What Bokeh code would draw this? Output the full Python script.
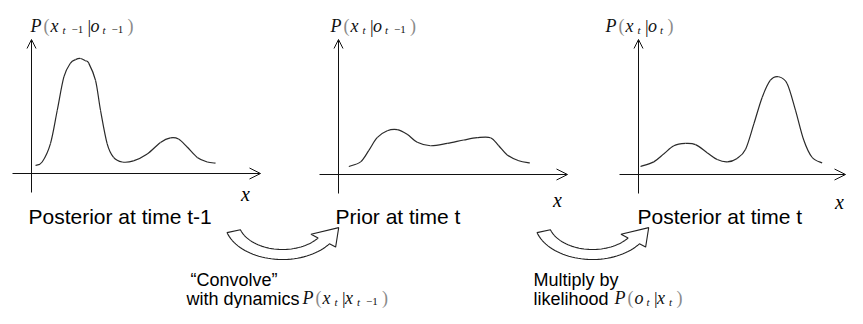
import numpy as np
from bokeh.plotting import figure
from bokeh.models import Range1d, Arrow, OpenHead
from bokeh.core.properties import value
from bokeh.embed import file_html
from bokeh.resources import INLINE

# ---------------- data (x in domain units, p = relative density) ----------------
post_prev_x = [0.22, 0.58, 1.03, 1.40, 1.76, 2.12, 2.39, 2.66, 2.93, 3.11, 3.48, 3.75,
               4.11, 4.46, 4.93, 5.54, 6.29, 7.01, 7.55, 7.99, 8.46, 9.01, 9.55, 10.0]
post_prev_p = [0.07, 0.10, 0.26, 0.55, 0.84, 0.96, 0.99, 1.00, 0.98, 0.96, 0.81, 0.55,
               0.26, 0.14, 0.10, 0.11, 0.17, 0.27, 0.31, 0.30, 0.23, 0.14, 0.10, 0.09]

prior_x = [0.56, 1.20, 1.65, 2.10, 2.65, 3.19, 3.73, 4.28, 5.00, 5.91, 6.81, 7.54,
           8.26, 8.71, 9.17, 9.80, 10.40]
prior_p = [0.07, 0.11, 0.21, 0.32, 0.38, 0.39, 0.35, 0.28, 0.25, 0.27, 0.30, 0.32,
           0.32, 0.25, 0.17, 0.12, 0.10]

post_x = [0.11, 0.83, 1.38, 1.92, 2.55, 3.10, 3.73, 4.28, 4.82, 5.36, 5.82, 6.27,
          6.72, 7.17, 7.62, 8.08, 8.53, 8.98, 9.43, 9.98]
post_p = [0.07, 0.11, 0.18, 0.25, 0.27, 0.26, 0.19, 0.13, 0.11, 0.14, 0.22, 0.44,
          0.67, 0.82, 0.85, 0.79, 0.56, 0.30, 0.15, 0.10]

panel_captions = ["Posterior at time t-1", "Prior at time t", "Posterior at time t"]
axis_label = "x"
step1_lines = ["\u201cConvolve\u201d", "with dynamics"]
step2_lines = ["Multiply by", "likelihood"]

# math labels: tuples are subscripts
title_tokens = [
    ["P", "(", "x", ("t\u22121",), "|", "o", ("t\u22121",), ")"],
    ["P", "(", "x", ("t",), "|", "o", ("t\u22121",), ")"],
    ["P", "(", "x", ("t",), "|", "o", ("t",), ")"],
]
dyn_tokens = ["P", "(", "x", ("t",), "|", "x", ("t\u22121",), ")"]
lik_tokens = ["P", "(", "o", ("t",), "|", "x", ("t",), ")"]

# ---------------- layout ----------------
W, H = 847, 308
X0, X1 = 0, W
Y0, Y1 = 0, H
SX, SY = 18.4, 115.0
origins = [(31, 173), (338, 174), (638, 174)]

p = figure(width=W, height=H, x_range=Range1d(X0, X1), y_range=Range1d(Y1, Y0),
           output_backend="svg", toolbar_location=None, min_border=0,
           x_axis_location=None, y_axis_location=None,
           outline_line_color=None, background_fill_color="white",
           border_fill_color="white")
p.grid.visible = False

SANS = value("Liberation Sans")
SERIF = value("Liberation Serif")


def smooth_curve(xs, ys, rname):
    """Catmull-Rom rendering of the read points as cubic Bezier segments."""
    x = np.asarray(xs, float)
    y = np.asarray(ys, float)
    n = len(x)
    xp = np.concatenate([[x[0]], x, [x[-1]]])
    yp = np.concatenate([[y[0]], y, [y[-1]]])
    i = np.arange(n - 1) + 1
    cx0 = xp[i] + (xp[i + 1] - xp[i - 1]) / 6
    cy0 = yp[i] + (yp[i + 1] - yp[i - 1]) / 6
    cx1 = xp[i + 1] - (xp[i + 2] - xp[i]) / 6
    cy1 = yp[i + 1] - (yp[i + 2] - yp[i]) / 6
    p.bezier(x0=x[:-1], y0=y[:-1], x1=x[1:], y1=y[1:], cx0=cx0, cy0=cy0,
             cx1=cx1, cy1=cy1, x_range_name=rname, y_range_name=rname,
             line_color="#2a2a2a", line_width=1.2)


curves = [(post_prev_x, post_prev_p), (prior_x, prior_p), (post_x, post_p)]
for k, ((ox, oy), (cx, cp)) in enumerate(zip(origins, curves)):
    name = f"panel{k}"
    p.extra_x_ranges[name] = Range1d((X0 - ox) / SX, (X1 - ox) / SX)
    p.extra_y_ranges[name] = Range1d((oy - Y1) / SY, (oy - Y0) / SY)
    smooth_curve(cx, cp, name)
    x_end = min(ox + 229, X1 - 2)
    p.add_layout(Arrow(end=OpenHead(size=11, line_width=1, line_color="#111"),
                       x_start=ox - 19, y_start=oy, x_end=x_end, y_end=oy,
                       line_width=1, line_color="#111"))
    p.add_layout(Arrow(end=OpenHead(size=9, line_width=1, line_color="#111"),
                       x_start=ox, y_start=oy + 19, x_end=ox, y_end=39,
                       line_width=1, line_color="#111"))

# panel captions
p.text(x=[28, 335, 637], y=[216, 216, 216], text=panel_captions, text_font=SANS,
       text_font_size="21px", text_color="black", text_baseline="alphabetic",
       text_align="left")

# axis "x" labels
p.text(x=[245, 557, 839], y=[193, 199, 201], text=[axis_label] * 3, text_font=SERIF,
       text_font_style="italic", text_font_size="20px", text_color="black",
       text_baseline="middle", text_align="center")

# ---------------- math labels ----------------
ADV = {"P": 13, "(": 7, "x": 11, "o": 11, "|": 3, ")": 6}
SUB_ADV = {"t": 8.5, "t\u22121": 26}
groups = {}


def add(key, x, y, t):
    groups.setdefault(key, ([], [], []))
    groups[key][0].append(x)
    groups[key][1].append(y)
    groups[key][2].append(t)


def math_label(x0, y0, tokens, s=1.0):
    x = x0
    for tok in tokens:
        if isinstance(tok, tuple):
            t = tok[0]
            add(("sub", s), x + 1 * s, y0 + 4 * s, "t")
            if t != "t":
                add(("subn", s), x + 10 * s, y0 + 4 * s, "\u22121")
            x += SUB_ADV[t] * s
        elif tok in "()":
            add(("paren", s), x, y0, tok)
            x += ADV[tok] * s
        elif tok == "|":
            add(("bar", s), x, y0 + 1 * s, tok)
            x += ADV[tok] * s
        else:
            add(("it", s), x, y0, tok)
            x += ADV[tok] * s


for (tx, tks) in zip([30, 330, 605], title_tokens):
    math_label(tx, 25, tks)
math_label(302, 297, dyn_tokens)
math_label(614, 297, lik_tokens)

style = {
    "it": dict(font=SERIF, fs="italic", size=18, color="#111"),
    "paren": dict(font=SERIF, fs="normal", size=18, color="#8a8a8a"),
    "bar": dict(font=SERIF, fs="normal", size=18, color="#111"),
    "sub": dict(font=SERIF, fs="italic", size=11, color="#111"),
    "subn": dict(font=SERIF, fs="normal", size=11, color="#111"),
}
for (kind, s), (xs, ys, ts) in groups.items():
    st = style[kind]
    p.text(x=xs, y=ys, text=ts, text_font=st["font"], text_font_style=st["fs"],
           text_font_size=f"{st['size'] * s:.1f}px", text_color=st["color"],
           text_baseline="alphabetic", text_align="left")

# ---------------- step descriptions ----------------
p.text(x=[190, 186], y=[279, 298], text=step1_lines, text_font=SANS,
       text_font_size="18px", text_color="black", text_baseline="alphabetic")
p.text(x=[533, 533], y=[279, 298], text=step2_lines, text_font=SANS,
       text_font_size="18px", text_color="black", text_baseline="alphabetic")


# ---------------- hollow curved arrows ----------------
def curved_arrow(cx, cy):
    ao, bo, ai, bi = 58, 38, 44, 28
    th = np.radians(np.linspace(163, 36, 40))
    ox_, oy_ = cx + ao * np.cos(th), cy + bo * np.sin(th)
    ix_, iy_ = cx + ai * np.cos(th), cy + bi * np.sin(th)
    te = th[-1]
    am, bm = (ao + ai) / 2, (bo + bi) / 2
    mx, my = cx + am * np.cos(te), cy + bm * np.sin(te)
    t = np.array([am * np.sin(te), -bm * np.cos(te)])
    t /= np.hypot(*t)
    n = np.array([ox_[-1] - ix_[-1], oy_[-1] - iy_[-1]])
    n /= np.hypot(*n)
    out_notch = (ox_[-1] + 7 * n[0], oy_[-1] + 7 * n[1])
    in_notch = (ix_[-1] - 8 * n[0], iy_[-1] - 8 * n[1])
    tip = (mx + 20 * t[0], my + 20 * t[1])
    xs = list(ox_) + [out_notch[0], tip[0], in_notch[0]] + list(ix_[::-1])
    ys = list(oy_) + [out_notch[1], tip[1], in_notch[1]] + list(iy_[::-1])
    p.patch(xs, ys, fill_color="white", line_color="#222", line_width=1.1)


curved_arrow(282, 221)
curved_arrow(592, 221)

open("out.html", "w").write(file_html(p, INLINE))
